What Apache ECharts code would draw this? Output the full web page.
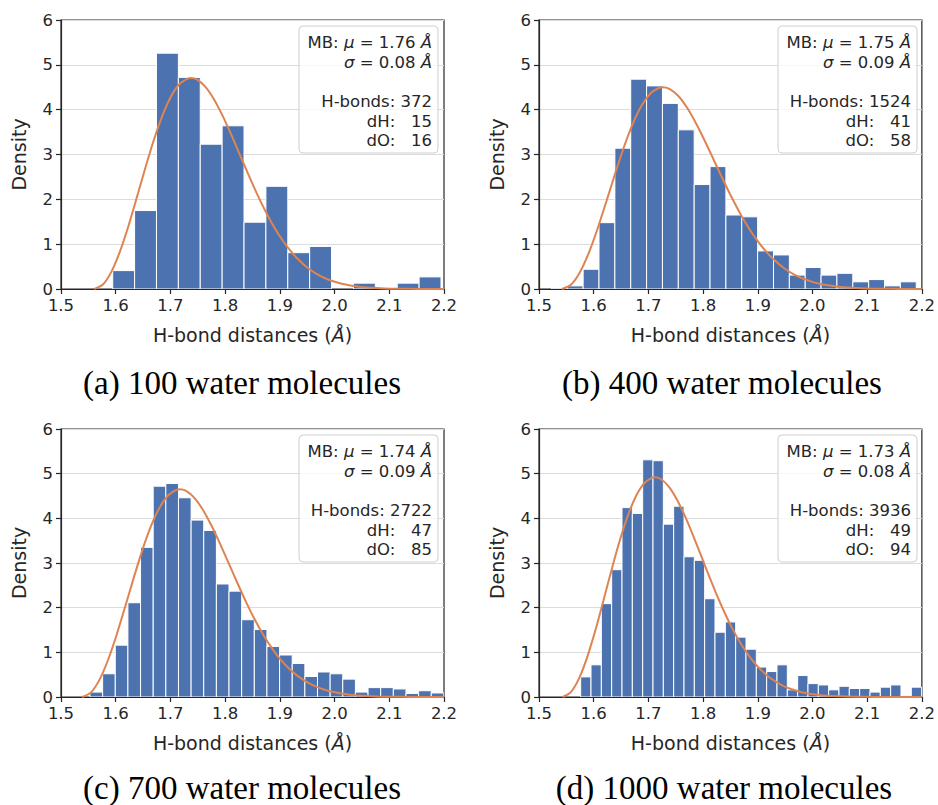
<!DOCTYPE html>
<html><head><meta charset="utf-8">
<script src="https://cdn.jsdelivr.net/npm/echarts@6/dist/echarts.min.js"></script>
<style>html,body{margin:0;padding:0;background:#fff}#c{width:938px;height:805px}</style>
</head><body><div id="c"></div>
<script>
// ---------- data ----------
const xTickValues = [1.5, 1.6, 1.7, 1.8, 1.9, 2.0, 2.1, 2.2];
const yTickValues = [0, 1, 2, 3, 4, 5, 6];
const captions = ['(a) 100 water molecules', '(b) 400 water molecules', '(c) 700 water molecules', '(d) 1000 water molecules'];

const muValues = ['1.76', '1.75', '1.74', '1.73'];
const sigmaValues = ['0.08', '0.09', '0.09', '0.08'];
const hbondCounts = ['372', '1524', '2722', '3936'];
const dHCounts = ['15', '41', '47', '49'];
const dOCounts = ['16', '58', '85', '94'];

// histogram bins (first edge, bin width) and densities
const binStartA = 1.5945, binWidthA = 0.04;
const densityA = [0.41, 1.75, 5.26, 4.72, 3.23, 3.64, 1.49, 2.29, 0.81, 0.95, 0, 0.13, 0, 0.13, 0.27];

const binStartB = 1.5227, binWidthB = 0.029;
const densityB = [0.02, 0.07, 0.44, 1.48, 3.14, 4.68, 4.53, 4.14, 3.55, 2.33, 2.73, 1.65, 1.61, 0.85, 0.76, 0.31, 0.48, 0.31, 0.35, 0.16, 0.21, 0.07, 0.16];

const binStartC = 1.553, binWidthC = 0.0231;
const densityC = [0.11, 0.52, 1.16, 2.11, 3.35, 4.72, 4.78, 4.46, 3.96, 3.73, 2.53, 2.37, 1.73, 1.51, 1.13, 0.94, 0.75, 0.46, 0.56, 0.52, 0.40, 0.11, 0.21, 0.21, 0.18, 0.08, 0.14, 0.09];

const binStartD = 1.5762, binWidthD = 0.01889;
const densityD = [0.45, 0.72, 2.09, 2.85, 4.24, 4.11, 5.31, 5.29, 3.87, 4.27, 3.14, 3.06, 2.20, 1.45, 1.68, 1.34, 1.07, 0.67, 0.57, 0.72, 0.16, 0.48, 0.30, 0.27, 0.16, 0.24, 0.19, 0.19, 0.11, 0.22, 0.27, 0.03, 0.22];

// fitted MB curves
const curveXA = [1.5610, 1.5766, 1.5922, 1.6078, 1.6234, 1.6389, 1.6545, 1.6701, 1.6857, 1.7013, 1.7169, 1.7325, 1.7373, 1.7481, 1.7636, 1.7792, 1.7948, 1.8104, 1.8260, 1.8416, 1.8572, 1.8728, 1.8883, 1.9039, 1.9195, 1.9351, 1.9507, 1.9663, 1.9819, 1.9975, 2.0130, 2.0286, 2.0442, 2.0598, 2.0910, 2.1222, 2.1533, 2.1845, 2.2];
const curveYA = [0, 0.0992, 0.3876, 0.8387, 1.4116, 2.0560, 2.7168, 3.3407, 3.8808, 4.3008, 4.5772, 4.7003, 4.7076, 4.6738, 4.5120, 4.2377, 3.8785, 3.4637, 3.0216, 2.5771, 2.1505, 1.7570, 1.4062, 1.1030, 0.8482, 0.6397, 0.4734, 0.3437, 0.2450, 0.1715, 0.1178, 0.0795, 0.0527, 0.0343, 0.0138, 0.0052, 0.0018, 0.0006, 0.0002];

const curveXB = [1.5420, 1.5583, 1.5746, 1.5909, 1.6072, 1.6235, 1.6398, 1.6561, 1.6724, 1.6887, 1.7050, 1.7213, 1.7264, 1.7376, 1.7539, 1.7702, 1.7865, 1.8028, 1.8191, 1.8354, 1.8517, 1.8680, 1.8843, 1.9006, 1.9169, 1.9332, 1.9495, 1.9658, 1.9821, 1.9984, 2.0147, 2.0310, 2.0473, 2.0636, 2.0962, 2.1288, 2.1614, 2.1940, 2.2];
const curveYB = [0, 0.0949, 0.3706, 0.8020, 1.3499, 1.9661, 2.5980, 3.1946, 3.7112, 4.1128, 4.3771, 4.4949, 4.5018, 4.4695, 4.3148, 4.0525, 3.7090, 3.3123, 2.8895, 2.4644, 2.0565, 1.6802, 1.3447, 1.0548, 0.8111, 0.6117, 0.4527, 0.3287, 0.2343, 0.1640, 0.1127, 0.0761, 0.0504, 0.0328, 0.0132, 0.0050, 0.0018, 0.0005, 0.0004];

const curveXC = [1.5386, 1.5544, 1.5702, 1.5859, 1.6017, 1.6175, 1.6333, 1.6490, 1.6648, 1.6806, 1.6964, 1.7121, 1.7171, 1.7279, 1.7437, 1.7595, 1.7752, 1.7910, 1.8068, 1.8226, 1.8383, 1.8541, 1.8699, 1.8857, 1.9014, 1.9172, 1.9330, 1.9488, 1.9645, 1.9803, 1.9961, 2.0119, 2.0276, 2.0434, 2.0750, 2.1065, 2.1381, 2.1696, 2.2];
const curveYC = [0, 0.0980, 0.3830, 0.8287, 1.3948, 2.0315, 2.6845, 3.3009, 3.8347, 4.2497, 4.5227, 4.6445, 4.6517, 4.6182, 4.4584, 4.1873, 3.8324, 3.4225, 2.9857, 2.5464, 2.1250, 1.7361, 1.3895, 1.0899, 0.8381, 0.6321, 0.4677, 0.3396, 0.2421, 0.1694, 0.1164, 0.0786, 0.0521, 0.0339, 0.0136, 0.0052, 0.0018, 0.0006, 0.0003];

const curveXD = [1.5430, 1.5579, 1.5728, 1.5877, 1.6027, 1.6176, 1.6325, 1.6474, 1.6623, 1.6772, 1.6921, 1.7070, 1.7117, 1.7220, 1.7369, 1.7518, 1.7667, 1.7816, 1.7965, 1.8114, 1.8263, 1.8413, 1.8562, 1.8711, 1.8860, 1.9009, 1.9158, 1.9307, 1.9456, 1.9606, 1.9755, 1.9904, 2.0053, 2.0202, 2.0500, 2.0799, 2.1097, 2.1395, 2.2];
const curveYD = [0, 0.1037, 0.4051, 0.8766, 1.4755, 2.1490, 2.8397, 3.4919, 4.0565, 4.4955, 4.7844, 4.9131, 4.9207, 4.8853, 4.7163, 4.4295, 4.0541, 3.6204, 3.1584, 2.6937, 2.2479, 1.8365, 1.4698, 1.1529, 0.8866, 0.6686, 0.4948, 0.3593, 0.2561, 0.1792, 0.1231, 0.0832, 0.0551, 0.0359, 0.0144, 0.0054, 0.0019, 0.0006, 0.0001];

// ---------- layout / style ----------
const grids = [
  {left: 61, top: 20, width: 383, height: 269},
  {left: 539, top: 20, width: 384, height: 269},
  {left: 61, top: 429, width: 383, height: 268},
  {left: 539, top: 429, width: 384, height: 268}
];
const captionPos = [[242, 383], [722, 383], [242, 788], [724, 788]];
const TXT = '#262626';
const SANS = 'DejaVu Sans';
const BAR = '#4c72b0';
const LINE = '#dd8452';

const panels = [
  {start: binStartA, width: binWidthA, dens: densityA, cx: curveXA, cy: curveYA},
  {start: binStartB, width: binWidthB, dens: densityB, cx: curveXB, cy: curveYB},
  {start: binStartC, width: binWidthC, dens: densityC, cx: curveXC, cy: curveYC},
  {start: binStartD, width: binWidthD, dens: densityD, cx: curveXD, cy: curveYD}
];

function renderBar(params, api) {
  const x0 = api.value(0), x1 = api.value(1), v = api.value(2);
  if (!(v > 0)) return null;
  const p0 = api.coord([x0, v]);
  const p1 = api.coord([x1, 0]);
  return {
    type: 'rect',
    shape: {x: p0[0], y: p0[1], width: p1[0] - p0[0], height: p1[1] - p0[1]},
    style: {fill: BAR, stroke: '#ffffff', lineWidth: 1}
  };
}

const option = {
  backgroundColor: '#ffffff',
  animation: false,
  grid: grids.map(g => Object.assign({show: true, borderColor: TXT, borderWidth: 1.2, backgroundColor: 'transparent', containLabel: false}, g)),
  xAxis: grids.map((g, i) => ({
    gridIndex: i, type: 'value',
    min: xTickValues[0], max: xTickValues[xTickValues.length - 1], interval: 0.1,
    axisLine: {show: true, onZero: false, lineStyle: {color: TXT, width: 1.2}},
    axisTick: {show: true, inside: false, length: 5, lineStyle: {color: TXT, width: 1.2}},
    axisLabel: {fontSize: 16.5, color: TXT, fontFamily: SANS, margin: 8, formatter: v => v.toFixed(1)},
    splitLine: {show: false},
    name: 'H-bond distances ({i|Å})', nameLocation: 'middle', nameGap: 36,
    nameTextStyle: {fontSize: 19, color: TXT, fontFamily: SANS,
      rich: {i: {fontSize: 19, color: TXT, fontFamily: SANS, fontStyle: 'italic'}}}
  })),
  yAxis: grids.map((g, i) => ({
    gridIndex: i, type: 'value',
    min: yTickValues[0], max: yTickValues[yTickValues.length - 1], interval: 1,
    axisLine: {show: true, lineStyle: {color: TXT, width: 1.2}},
    axisTick: {show: true, inside: false, length: 5, lineStyle: {color: TXT, width: 1.2}},
    axisLabel: {fontSize: 16.5, color: TXT, fontFamily: SANS, margin: 8},
    splitLine: {show: true, lineStyle: {color: '#dcdcdc', width: 1}},
    name: 'Density', nameLocation: 'middle', nameGap: 33,
    nameTextStyle: {fontSize: 19, color: TXT, fontFamily: SANS}
  })),
  series: []
};

panels.forEach((p, i) => {
  const data = p.dens.map((d, k) => [p.start + k * p.width, p.start + (k + 1) * p.width, d]);
  option.series.push({
    type: 'custom', xAxisIndex: i, yAxisIndex: i, renderItem: renderBar,
    encode: {x: [0, 1], y: 2}, data: data, z: 2, clip: true
  });
  option.series.push({
    type: 'line', xAxisIndex: i, yAxisIndex: i, showSymbol: false, symbol: 'none',
    smooth: 0.25, clip: true, z: 3,
    lineStyle: {color: LINE, width: 2},
    data: p.cx.map((x, k) => [x, p.cy[k]])
  });
});

// stats boxes and captions
const graphics = [];
const FS = 16.5;
const rich = {i: {fontStyle: 'italic', fontSize: FS, fontFamily: SANS, fill: TXT}};
grids.forEach((g, i) => {
  const right = g.left + g.width - 6;
  const top = g.top + 6;
  const bw = 139, bh = 127;
  graphics.push({
    type: 'rect', z: 100,
    shape: {x: right - bw, y: top, width: bw, height: bh, r: 4},
    style: {fill: 'rgba(255,255,255,0.8)', stroke: '#cfcfcf', lineWidth: 1}
  });
  const pad = '\u00a0\u00a0\u00a0';
  const lines = [
    ['MB: {i|μ} = ' + muValues[i] + ' {i|Å}', 16.3],
    ['{i|σ} = ' + sigmaValues[i] + ' {i|Å}', 36.5],
    ['H-bonds: ' + hbondCounts[i], 75],
    ['dH:' + pad + dHCounts[i], 95],
    ['dO:' + pad + dOCounts[i], 114.5]
  ];
  lines.forEach(l => {
    graphics.push({
      type: 'text', z: 101, x: right - 6, y: top + l[1],
      style: {text: l[0], align: 'right', verticalAlign: 'middle', fontSize: FS, fontFamily: SANS, fill: TXT, rich: rich}
    });
  });
  graphics.push({
    type: 'text', z: 101, x: captionPos[i][0], y: captionPos[i][1],
    style: {text: captions[i], align: 'center', verticalAlign: 'middle', fontSize: 33, fontFamily: 'Liberation Serif', fill: '#000000'}
  });
});
option.graphic = {elements: graphics};

const chart = echarts.init(document.getElementById('c'), null, {renderer: 'svg', width: 938, height: 805});
chart.setOption(option);
</script>
</body></html>
